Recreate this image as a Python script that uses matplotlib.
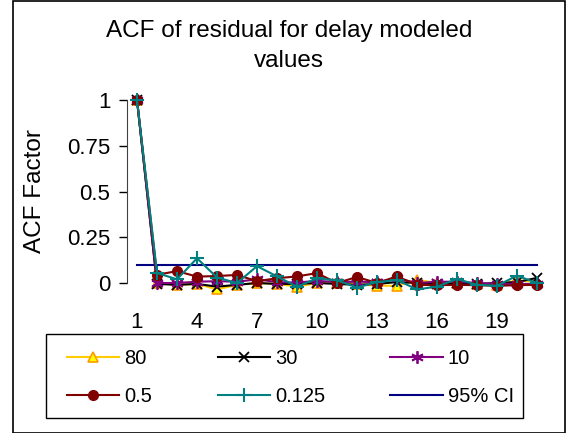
import matplotlib
matplotlib.use("Agg")
import matplotlib.pyplot as plt
from matplotlib.patches import Rectangle

plt.rcParams["font.family"] = ["Liberation Sans", "DejaVu Sans"]

# ==================== DATA ====================
lags = list(range(1, 22))
xtick_lags = [1, 4, 7, 10, 13, 16, 19]
ytick_vals = [0, 0.25, 0.5, 0.75, 1]

acf_80 = [1, 0.0, -0.01, -0.005, -0.035, -0.01, 0.0, -0.005, -0.02, 0.0, 0.0,
          -0.005, -0.015, -0.015, 0.018, 0.0, 0.0, -0.005, -0.01, 0.015, 0.005]
acf_30 = [1, -0.005, -0.01, -0.005, -0.02, -0.01, 0.0, -0.005, -0.005, 0.0, -0.005,
          -0.01, -0.005, 0.005, 0.0, -0.005, 0.0, -0.005, 0.0, 0.005, 0.028]
acf_10 = [1, 0.0, 0.0, 0.007, 0.01, 0.007, 0.02, 0.005, 0.002, 0.012, 0.005,
          0.007, 0.005, 0.025, 0.0, 0.007, 0.007, 0.0, -0.005, -0.005, -0.005]
acf_05 = [1, 0.045, 0.065, 0.035, 0.038, 0.044, 0.01, 0.026, 0.036, 0.054, 0.0,
          0.033, 0.0, 0.036, -0.01, -0.012, -0.01, -0.012, -0.015, -0.012, -0.01]
acf_0125 = [1, 0.055, 0.02, 0.135, 0.03, 0.0, 0.092, 0.036, -0.02, 0.025, 0.015,
            -0.025, 0.005, 0.016, -0.035, -0.02, 0.022, -0.01, -0.015, 0.04, 0.0]
ci_95 = [0.1] * 21

W, H = 566, 433

# ==================== PLOT ====================
fig = plt.figure(figsize=(W / 100, H / 100), dpi=100)
ax = fig.add_axes([127 / W, (H - 283) / H, 420 / W, 183 / H])

ci_line, = ax.plot(lags, ci_95, color="#000080", lw=1.5, zorder=2, label="95% CI")
l80, = ax.plot(lags, acf_80, color="#FFCC00", lw=1.5, marker="^", ms=7,
               mfc="#FFFF00", mec="#FF9900", mew=1.2, clip_on=False, zorder=3, label="80")
l30, = ax.plot(lags, acf_30, color="black", lw=1.5, marker="x", ms=7, mew=1.3,
               clip_on=False, zorder=3, label="30")
l10, = ax.plot(lags, acf_10, color="#800080", lw=1.5, marker=(6, 2, 0), ms=9, mew=1.3,
               clip_on=False, zorder=3, label="10")
l05, = ax.plot(lags, acf_05, color="#800000", lw=1.5, marker="o", ms=7,
               clip_on=False, zorder=4, label="0.5")
l0125, = ax.plot(lags, acf_0125, color="#008080", lw=1.5, marker="+", ms=10, mew=1.5,
                 clip_on=False, zorder=5, label="0.125")

ax.set_xlim(0.5, 21.5)
ax.set_ylim(0, 1)
ax.set_xticks(xtick_lags)
ax.set_xticklabels([str(v) for v in xtick_lags])
ax.set_yticks(ytick_vals)
ax.set_yticklabels(["0", "0.25", "0.5", "0.75", "1"])
ax.tick_params(axis="x", length=0, pad=21, labelsize=16)
ax.tick_params(axis="y", length=6, width=1, pad=6, labelsize=16, direction="out")
for side in ["top", "right", "bottom"]:
    ax.spines[side].set_visible(False)
ax.spines["left"].set_color("#404040")
ax.set_ylabel("ACF Factor", fontsize=17.5, va="center")
ax.yaxis.set_label_coords((35 - 127) / 420, 0.5)

fig.text(289 / W, 1 - 46 / H, "ACF of residual for delay modeled\nvalues",
         ha="center", va="center", fontsize=17.5, linespacing=1.5)

# legend: entries without frame, frame drawn as its own rectangle
handles = [l80, l05, l30, l0125, l10, ci_line]
labels = [h.get_label() for h in handles]
fig.legend(handles, labels, ncol=3, loc="lower left",
           bbox_to_anchor=(52 / W, (H - 421) / H, 477 / W, 84 / H),
           mode="expand", fontsize=14.5, frameon=False,
           handlelength=2.6, handletextpad=0.25, labelspacing=0.95,
           borderpad=0.75, borderaxespad=0)
fig.patches.append(Rectangle((46 / W, (H - 418) / H), 477 / W, 84 / H, transform=fig.transFigure,
                             fill=False, edgecolor="black", lw=1))

fig.patches.append(Rectangle((13 / W, 0.5 / H), 552 / W, 432 / H, transform=fig.transFigure,
                             fill=False, edgecolor="black", lw=1.2))

fig.savefig("out.png", dpi=100)
